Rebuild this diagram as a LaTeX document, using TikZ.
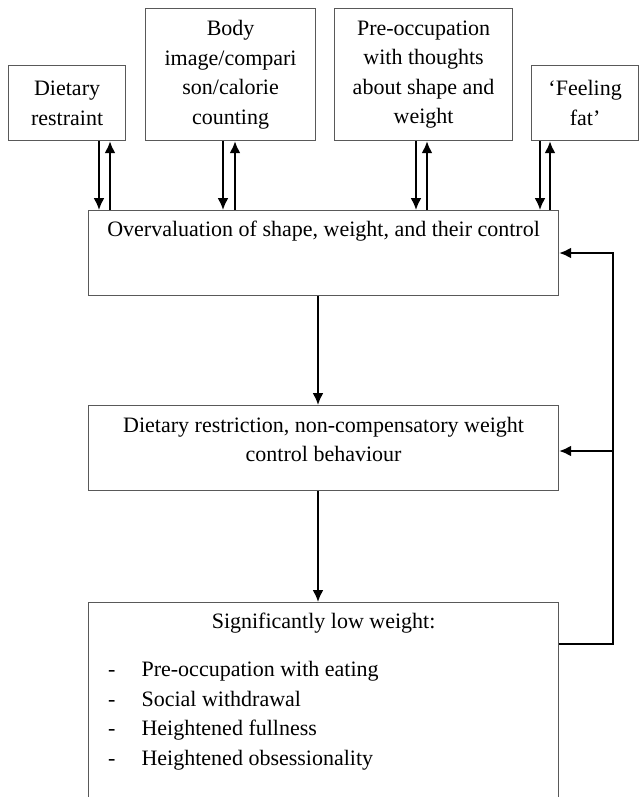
\documentclass[tikz,border=0pt]{standalone}
\usepackage{fontspec}
\setmainfont{Liberation Serif}
\usepackage{tikz}
\usetikzlibrary{
    arrows.meta
}
\newcommand{\dashitem}[1]{\hspace*{9.75pt}\makebox[16.75pt][l]{-}#1\par}

\begin{document}
\begin{tikzpicture}[x=0.5pt, y=-0.5pt,
    >={Latex[length=6pt, width=5.5pt]},
    blockbox/.style={draw=black!65, line width=0.6pt, anchor=north west, inner sep=0pt,
        font=\fontsize{11pt}{14.75pt}\selectfont},
    link/.style={->, line width=1pt}]
    \clip (0, 0) rectangle (640, 797);
    % top row
    \node[blockbox, align=center, minimum width=58.5pt, minimum height=37.5pt] (restraint) at (8, 65) {Dietary\\restraint};
    \node[blockbox, align=center, minimum width=85pt, minimum height=66pt] (bodyimage) at (145, 8) {Body\\image/compari\\son/calorie\\counting};
    \node[blockbox, align=center, minimum width=89pt, minimum height=66pt] (preocc) at (334, 8) {Pre-occupation\\with thoughts\\about shape and\\weight};
    \node[blockbox, align=center, minimum width=53.5pt, minimum height=37.5pt] (fat) at (531, 65) {‘Feeling\\fat’};
    % main column
    \node[blockbox, minimum width=235pt, text height=13pt, text depth=29.5pt] (overval) at (88, 210) {Overvaluation of shape, weight, and their control};
    \node[blockbox, align=center, minimum width=235pt, text height=28pt, text depth=14.5pt] (midbox) at (88, 405) {Dietary restriction, non-compensatory weight\\control behaviour};
    \node[blockbox, align=left, text width=235pt, text height=13pt, text depth=91pt] (lowbox) at (88, 602) {%
        \spaceskip=0pt \xspaceskip=0pt
        {\centering Significantly low weight:\par}\vspace{9.25pt}
        \dashitem{Pre-occupation with eating}
        \dashitem{Social withdrawal}
        \dashitem{Heightened fullness}
        \dashitem{Heightened obsessionality}};
    % two-way links to the top row
    \foreach \src/\down/\up in {restraint/99/110, bodyimage/223/235, preocc/416/427, fat/540/550} {
        \draw[link] (\src.south -| \down, 0) -- (overval.north -| \down, 0);
        \draw[link] (overval.north -| \up, 0) -- (\src.south -| \up, 0);
    }
    \coordinate (spine) at (318, 0);
    \draw[link] (overval.south -| spine) -- (midbox.north -| spine);
    \draw[link] (midbox.south -| spine) -- (lowbox.north -| spine);
    % feedback loop
    \coordinate (fbtop) at (613, 253);
    \coordinate (fbmid) at (613, 451);
    \coordinate (fbbot) at (613, 644);
    \draw[link] (lowbox.east |- fbbot) -- (fbbot) -- (fbtop) -- (overval.east |- fbtop);
    \draw[link] (fbmid) -- (midbox.east |- fbmid);
\end{tikzpicture}
\end{document}
